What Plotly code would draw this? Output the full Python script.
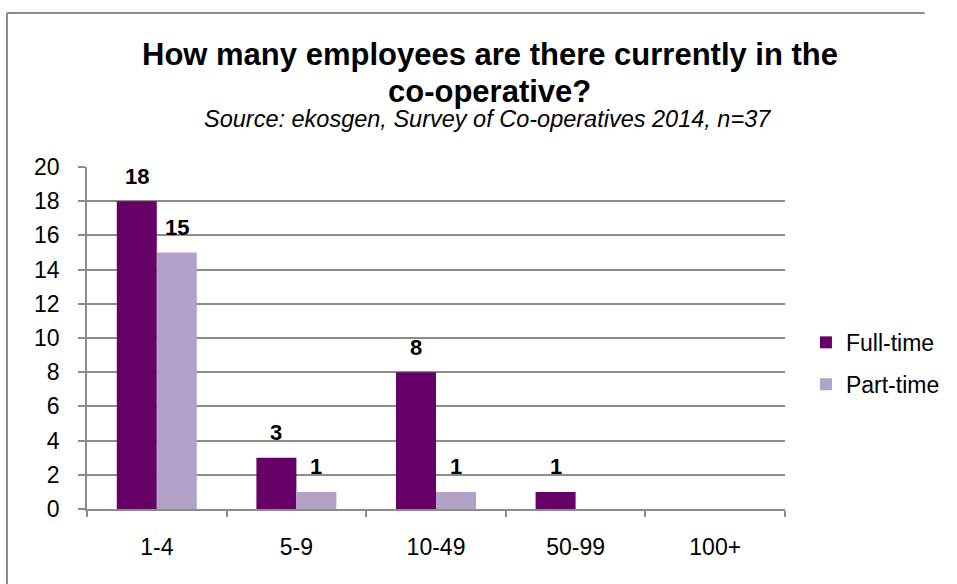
import plotly.graph_objects as go

# Survey responses: number of co-operatives by employee band
categories = ["1-4", "5-9", "10-49", "50-99", "100+"]
full_time = [18, 3, 8, 1, 0]
part_time = [15, 1, 1, 0, 0]
y_ticks = list(range(0, 21, 2))

title_lines = ["How many employees are there currently in the", "co-operative?"]
subtitle = "Source: ekosgen, Survey of Co-operatives 2014, n=37"

FULL_COLOR = "#660066"
PART_COLOR = "#B3A2C7"
GRID_COLOR = "#8c8c8c"
FONT = "Liberation Sans, Arial, sans-serif"
TICK_SIZE = 23

BAR_GAP = 0.427

fig = go.Figure()
fig.add_trace(go.Bar(x=categories, y=full_time, name="Full-time",
                     marker=dict(color=FULL_COLOR, line=dict(width=0)),
                     legendgroup="ft"))
fig.add_trace(go.Bar(x=categories, y=part_time, name="Part-time",
                     marker=dict(color=PART_COLOR, line=dict(width=0)),
                     legendgroup="pt"))

# Value labels above each non-zero bar
half = (1 - BAR_GAP) / 4
annotations = []
for series, shift in ((full_time, -half), (part_time, half)):
    for i, v in enumerate(series):
        if v:
            annotations.append(dict(
                x=i + shift, y=v, xref="x", yref="y", text=f"<b>{v}</b>",
                showarrow=False, yanchor="middle", yshift=25,
                font=dict(family=FONT, size=22, color="#000000")))

# Title and source line
annotations.append(dict(x=0.577, y=1.330, xref="paper", yref="paper",
                        text=f"<b>{title_lines[0]}</b>", showarrow=False,
                        xanchor="center", yanchor="middle",
                        font=dict(family=FONT, size=31, color="#000000")))
annotations.append(dict(x=0.577, y=1.222, xref="paper", yref="paper",
                        text=f"<b>{title_lines[1]}</b>", showarrow=False,
                        xanchor="center", yanchor="middle",
                        font=dict(family=FONT, size=31, color="#000000")))
annotations.append(dict(x=0.574, y=1.140, xref="paper", yref="paper",
                        text=f"<i>{subtitle}</i>", showarrow=False,
                        xanchor="center", yanchor="middle",
                        font=dict(family=FONT, size=23.5, color="#000000")))

# Chart frame: top and left edges
frame = dict(color="#8c8c8c", width=2)
shapes = [
    dict(type="line", xref="paper", yref="paper",
         x0=-0.1146, x1=1.2, y0=1.450, y1=1.450, line=frame, layer="below"),
    dict(type="line", xref="paper", yref="paper",
         x0=-0.1146, x1=-0.1146, y0=-0.4, y1=1.450, line=frame, layer="below"),
]

fig.update_layout(
    width=957, height=584,
    margin=dict(l=87, r=172, t=167, b=75, pad=0),
    paper_bgcolor="#ffffff", plot_bgcolor="#ffffff",
    barmode="group", bargap=BAR_GAP, bargroupgap=0,
    font=dict(family=FONT, size=TICK_SIZE, color="#000000"),
    showlegend=True,
    legend=dict(x=1.03, y=0.55, xanchor="left", yanchor="top",
                font=dict(family=FONT, size=TICK_SIZE, color="#000000"),
                tracegroupgap=9, bgcolor="rgba(0,0,0,0)"),
    annotations=annotations,
    shapes=shapes,
)

fig.update_yaxes(range=[0, 20], tickvals=y_ticks, showgrid=True,
                 gridcolor=GRID_COLOR, gridwidth=1.5,
                 showline=True, linecolor=GRID_COLOR, linewidth=1.5,
                 ticks="outside", ticklen=7, tickcolor=GRID_COLOR, tickwidth=1.5,
                 ticklabelstandoff=14, zeroline=False,
                 tickfont=dict(family=FONT, size=TICK_SIZE, color="#000000"))
fig.update_xaxes(showline=True, linecolor=GRID_COLOR, linewidth=1.5,
                 ticks="outside", ticklen=6, tickcolor=GRID_COLOR, tickwidth=1.5,
                 tickson="boundaries", showgrid=False, ticklabelstandoff=17,
                 tickfont=dict(family=FONT, size=TICK_SIZE, color="#000000"))

fig.write_html("out.html")
